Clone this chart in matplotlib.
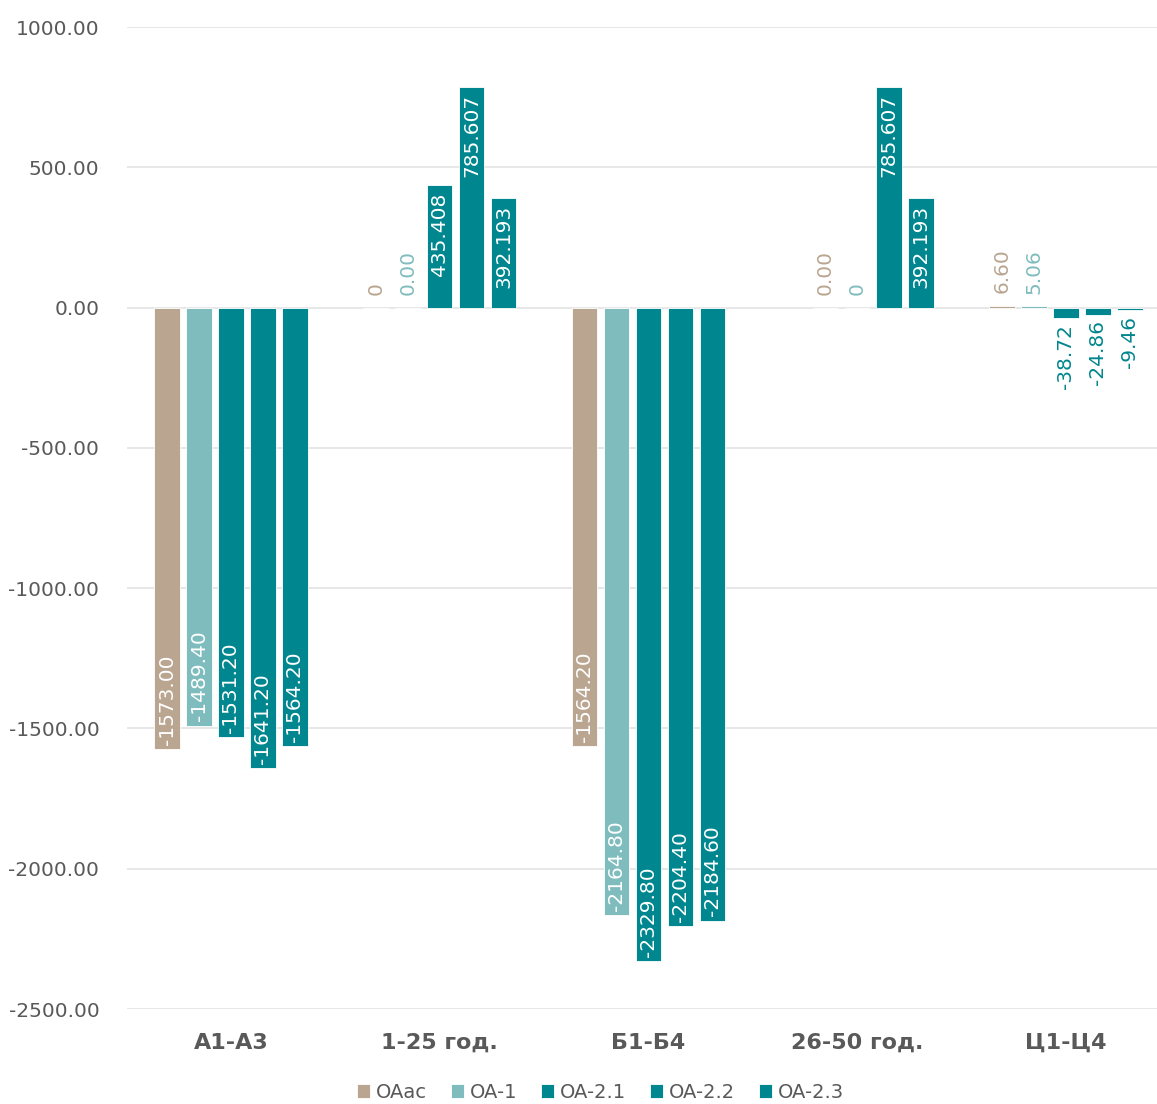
"""Clustered bar chart of OA deltas by zone group."""

import numpy as np
import matplotlib
matplotlib.use("Agg")
import matplotlib.pyplot as plt

categories = ["А1-А3", "1-25 год.", "Б1-Б4", "26-50 год.", "Ц1-Ц4"]
series_names = ["OAac", "OA-1", "OA-2.1", "OA-2.2", "OA-2.3"]

oaac = [-1573.00, 0.0, -1564.20, np.nan, 6.60]
oa_1 = [-1489.40, 0.0, -2164.80, 0.0, 5.06]
oa_21 = [-1531.20, 435.408, -2329.80, 0.0, -38.72]
oa_22 = [-1641.20, 785.607, -2204.40, 785.607, -24.86]
oa_23 = [-1564.20, 392.193, -2184.60, 392.193, -9.46]

labels_oaac = ["-1573.00", "0", "-1564.20", None, "6.60"]
labels_oa_1 = ["-1489.40", "0.00", "-2164.80", "0.00", "5.06"]
labels_oa_21 = ["-1531.20", "435.408", "-2329.80", "0", "-38.72"]
labels_oa_22 = ["-1641.20", "785.607", "-2204.40", "785.607", "-24.86"]
labels_oa_23 = ["-1564.20", "392.193", "-2184.60", "392.193", "-9.46"]

colors = ["#b9a590", "#7fbcbd", "#00868e", "#00868e", "#00868e"]
# the 26-50 group has its zero labels coloured differently in the source
label_color_override = {(1, 3): "#b9a590", (2, 3): "#7fbcbd"}

values = [oaac, oa_1, oa_21, oa_22, oa_23]
labels = [labels_oaac, labels_oa_1, labels_oa_21, labels_oa_22, labels_oa_23]

GRAY = "#595959"
FONT = "DejaVu Sans"

fig = plt.figure(figsize=(11.57, 11.04), dpi=100)
ax = fig.add_axes([0.1098, 0.086, 0.8902, 0.8895])

x = np.arange(len(categories))
pitch = 0.153
width = 0.122

for i, (name, vals, labs, col) in enumerate(zip(series_names, values, labels, colors)):
    pos = x + (i - 2) * pitch
    ax.bar(pos, vals, width=width, color=col, edgecolor="white", linewidth=0.6,
           label=name, zorder=3)
    for j, (v, lab) in enumerate(zip(vals, labs)):
        if lab is None or np.isnan(v):
            continue
        big = abs(v) > 200
        if big:
            # inside end, white text
            tc = "white"
            if v > 0:
                off, va = -5, "top"
            else:
                off, va = 3, "bottom"
        else:
            tc = label_color_override.get((i, j), col)
            if v >= 0:
                off, va = 9, "bottom"
            else:
                off, va = -4, "top"
        ax.annotate(lab, (pos[j], v), xytext=(0, off), textcoords="offset points",
                    rotation=90, ha="center", va=va, color=tc, fontsize=14.5,
                    family=FONT, zorder=4)

ax.set_ylim(-2500, 1000)
ax.set_xlim(-0.498, 4.436)
ax.set_yticks(np.arange(-2500, 1001, 500))
ax.set_yticklabels([f"{t:.2f}" for t in np.arange(-2500, 1001, 500)],
                   fontsize=14.5, color=GRAY, family=FONT)
ax.set_xticks(x)
ax.set_xticklabels(categories, fontsize=16, fontweight="bold", color=GRAY, family=FONT)
ax.tick_params(axis="both", length=0)
ax.tick_params(axis="y", pad=20)
ax.tick_params(axis="x", pad=17)
for s in ax.spines.values():
    s.set_visible(False)
ax.yaxis.grid(True, color="#e0e0e0", linewidth=1.1, zorder=0)
ax.set_axisbelow(True)

leg = fig.legend(loc="lower center", bbox_to_anchor=(0.519, -0.014), ncol=5,
                 frameon=False, fontsize=14, handlelength=0.7, handleheight=0.7,
                 handletextpad=0.3, columnspacing=1.2)
for t in leg.get_texts():
    t.set_color(GRAY)

fig.savefig("out.png", dpi=100)
